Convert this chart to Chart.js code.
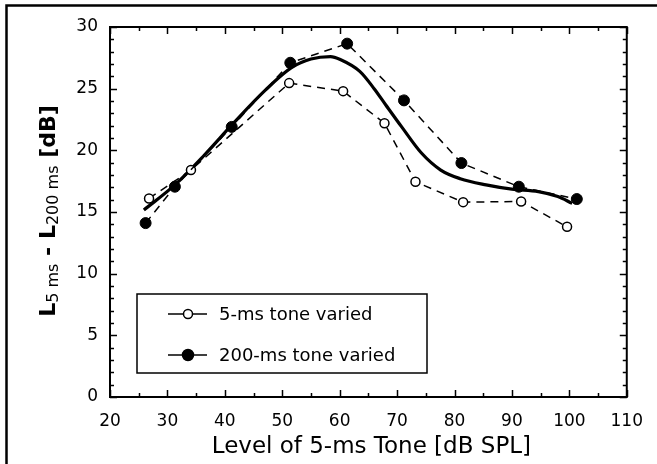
<!DOCTYPE html>
<html>
<head>
<meta charset="utf-8">
<script src="https://cdn.jsdelivr.net/npm/chart.js@4"></script>
<style>
  html, body { margin: 0; padding: 0; background: #fff; }
  canvas { display: block; }
</style>
</head>
<body>
<canvas id="chart" width="657" height="464"></canvas>
<script>
// --- data ---
const shortX = [26.8, 34.1, 51.2, 60.6, 67.8, 73.2, 81.5, 91.6, 99.6];
const shortY = [16.1, 18.4, 25.45, 24.8, 22.2, 17.45, 15.8, 15.85, 13.8];

const longX = [26.2, 31.3, 41.2, 51.4, 61.3, 71.2, 81.2, 91.2, 101.3];
const longY = [14.1, 17.05, 21.9, 27.1, 28.65, 24.05, 18.97, 17.05, 16.05];

const fitX = [25.9, 31.3, 36.4, 41.5, 47.1, 51.6, 55.0, 58.4, 60.1, 63.5, 66.0, 68.0, 70.8, 74.2, 77.6, 81.0, 85.5, 90.0, 94.6, 98.0, 100.5];
const fitY = [15.16, 17.2, 19.6, 22.2, 24.9, 26.7, 27.4, 27.6, 27.36, 26.4, 25.0, 23.7, 21.9, 19.8, 18.4, 17.7, 17.2, 16.85, 16.65, 16.25, 15.7];

const xTicks = [20, 30, 40, 50, 60, 70, 80, 90, 100, 110];
const yTicks = [0, 5, 10, 15, 20, 25, 30];

const seriesLabels = ["5-ms tone varied", "200-ms tone varied"];
const xTitle = "Level of 5-ms Tone [dB SPL]";

// --- helpers ---
const pts = (xs, ys) => xs.map((x, i) => ({ x: x, y: ys[i] }));
const FONT = "'DejaVu Sans', sans-serif";

// frame, inward ticks, titles, legend
const decor = {
  id: "decor",
  afterDraw(chart) {
    const ctx = chart.ctx;
    const a = chart.chartArea;
    const xs = chart.scales.x, ys = chart.scales.y;
    ctx.save();
    ctx.strokeStyle = "#000";

    // outer page frame (left + top only visible)
    ctx.lineWidth = 2.5;
    ctx.beginPath();
    ctx.moveTo(6.5, 464);
    ctx.lineTo(6.5, 5.5);
    ctx.lineTo(657, 5.5);
    ctx.stroke();

    // plot box
    ctx.lineWidth = 2;
    ctx.strokeRect(a.left, a.top, a.right - a.left, a.bottom - a.top);

    // ticks
    ctx.lineWidth = 1.5;
    ctx.beginPath();
    for (let v = 20; v <= 110; v += 5) {
      const p = Math.round(xs.getPixelForValue(v)) + 0.5;
      const len = v % 10 === 0 ? 7 : 4;
      ctx.moveTo(p, a.bottom); ctx.lineTo(p, a.bottom - len);
      ctx.moveTo(p, a.top); ctx.lineTo(p, a.top + len);
    }
    for (let v = 0; v <= 30; v += 1) {
      const p = Math.round(ys.getPixelForValue(v)) + 0.5;
      const len = v % 5 === 0 ? 7 : 4;
      ctx.moveTo(a.left, p); ctx.lineTo(a.left + len, p);
      ctx.moveTo(a.right, p); ctx.lineTo(a.right - len, p);
    }
    ctx.stroke();

    // x title
    ctx.fillStyle = "#000";
    ctx.font = "23px " + FONT;
    ctx.textAlign = "center";
    ctx.textBaseline = "alphabetic";
    ctx.fillText(xTitle, (a.left + a.right) / 2 + 3, 453);

    // y title with subscripts
    const parts = [
      { t: "L", f: "bold 22px " + FONT, d: 0 },
      { t: "5 ms", f: "16px " + FONT, d: 3 },
      { t: " - ", f: "bold 22px " + FONT, d: 0 },
      { t: "L", f: "bold 22px " + FONT, d: 0 },
      { t: "200 ms", f: "16px " + FONT, d: 3 },
      { t: " [dB]", f: "bold 22px " + FONT, d: 0 }
    ];
    let total = 0;
    parts.forEach((p) => { ctx.font = p.f; p.w = ctx.measureText(p.t).width; total += p.w; });
    ctx.translate(55, 211);
    ctx.rotate(-Math.PI / 2);
    ctx.textAlign = "left";
    let cx = -total / 2;
    parts.forEach((p) => { ctx.font = p.f; ctx.fillText(p.t, cx, p.d); cx += p.w; });
    ctx.setTransform(1, 0, 0, 1, 0, 0);

    // legend box
    ctx.lineWidth = 1.5;
    ctx.strokeRect(137, 294, 290, 79);
    const rows = [314, 355];
    [0, 1].forEach((i) => {
      const ds = chart.data.datasets[i];
      const y = rows[i];
      ctx.lineWidth = 1.5;
      ctx.setLineDash([]);
      ctx.beginPath();
      ctx.moveTo(168, y); ctx.lineTo(207, y);
      ctx.stroke();
      ctx.beginPath();
      ctx.arc(188, y, ds.pointRadius, 0, Math.PI * 2);
      ctx.fillStyle = ds.pointBackgroundColor;
      ctx.fill();
      ctx.stroke();
      ctx.fillStyle = "#000";
      ctx.font = "18px " + FONT;
      ctx.textBaseline = "middle";
      ctx.fillText(ds.label, 219, y + 1);
    });
    ctx.restore();
  }
};

new Chart(document.getElementById("chart"), {
  type: "scatter",
  data: {
    datasets: [
      {
        label: seriesLabels[0],
        data: pts(shortX, shortY),
        showLine: true,
        borderColor: "#000",
        borderWidth: 1.5,
        borderDash: [8, 6],
        pointRadius: 4.5,
        pointBorderWidth: 1.5,
        pointBorderColor: "#000",
        pointBackgroundColor: "#fff",
        order: 1
      },
      {
        label: seriesLabels[1],
        data: pts(longX, longY),
        showLine: true,
        borderColor: "#000",
        borderWidth: 1.5,
        borderDash: [8, 6],
        pointRadius: 5.5,
        pointBorderWidth: 1,
        pointBorderColor: "#000",
        pointBackgroundColor: "#000",
        order: 0
      },
      {
        label: "fit",
        data: pts(fitX, fitY),
        showLine: true,
        borderColor: "#000",
        borderWidth: 3.2,
        cubicInterpolationMode: "monotone",
        pointRadius: 0,
        order: 2
      }
    ]
  },
  options: {
    responsive: false,
    animation: false,
    events: [],
    layout: { padding: { top: 27, right: 16, left: 0, bottom: 0 } },
    plugins: { legend: { display: false }, tooltip: { enabled: false } },
    scales: {
      x: {
        type: "linear",
        min: 20, max: 110,
        afterBuildTicks: (s) => { s.ticks = xTicks.map((v) => ({ value: v })); },
        afterFit: (s) => { s.height = 67; },
        grid: { display: false, drawTicks: false },
        border: { display: false },
        ticks: { color: "#000", font: { family: FONT, size: 17 }, padding: 14, maxRotation: 0 }
      },
      y: {
        type: "linear",
        min: 0, max: 30,
        afterBuildTicks: (s) => { s.ticks = yTicks.map((v) => ({ value: v })); },
        afterFit: (s) => { s.width = 110; },
        grid: { display: false, drawTicks: false },
        border: { display: false },
        ticks: { color: "#000", font: { family: FONT, size: 17 }, padding: 12 }
      }
    }
  },
  plugins: [decor]
});
</script>
</body>
</html>
